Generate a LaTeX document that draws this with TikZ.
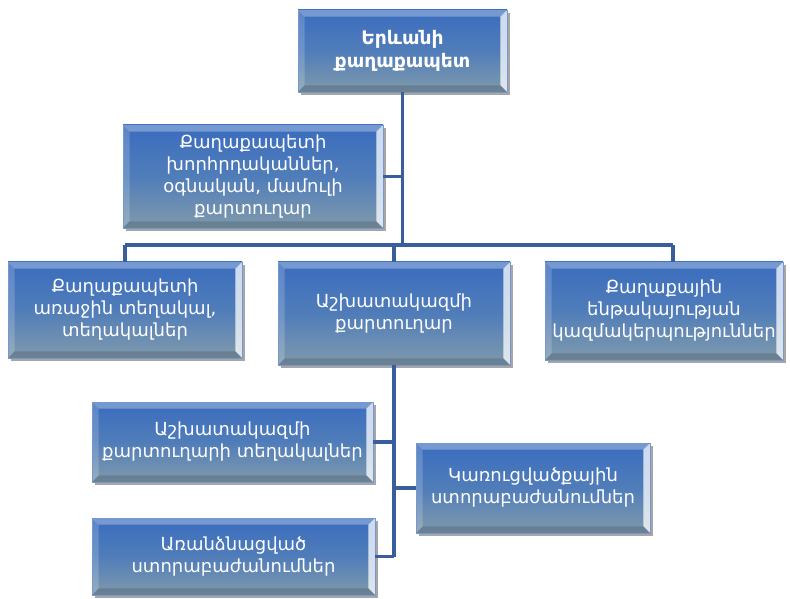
\documentclass[tikz,border=0pt]{standalone}
\usepackage{fontspec}
\setmainfont{DejaVu Sans}
\usetikzlibrary{shadows}
\definecolor{linec}{RGB}{58,94,155}
\definecolor{boxtop}{RGB}{58,108,190}
\definecolor{boxmid}{RGB}{80,125,185}
\definecolor{boxbot}{RGB}{128,154,172}
\tikzset{
  orgbox/.style={rectangle, inner sep=0pt, align=center, text=white,
    font=\fontsize{13.5}{16.5}\selectfont,
    top color=boxtop, bottom color=boxbot, middle color=boxmid,
    draw=boxtop!70!white, line width=0.4pt,
    drop shadow={shadow xshift=2pt, shadow yshift=-2.5pt, opacity=0.35, fill=black},
    path picture={
      \fill[white,opacity=0.30] (path picture bounding box.north west) -- (path picture bounding box.north east)
        -- ([shift={(-5pt,-5pt)}]path picture bounding box.north east) -- ([shift={(5pt,-5pt)}]path picture bounding box.north west) -- cycle;
      \fill[white,opacity=0.18] (path picture bounding box.north west) -- (path picture bounding box.south west)
        -- ([shift={(5pt,5pt)}]path picture bounding box.south west) -- ([shift={(5pt,-5pt)}]path picture bounding box.north west) -- cycle;
      \fill[white,opacity=0.75] (path picture bounding box.north east) -- (path picture bounding box.south east)
        -- ([shift={(-5pt,5pt)}]path picture bounding box.south east) -- ([shift={(-5pt,-5pt)}]path picture bounding box.north east) -- cycle;
      \fill[black,opacity=0.15] (path picture bounding box.south west) -- (path picture bounding box.south east)
        -- ([shift={(-5pt,5pt)}]path picture bounding box.south east) -- ([shift={(5pt,5pt)}]path picture bounding box.south west) -- cycle;
    }},
  conn/.style={draw=linec, line width=2.3pt}
}
\begin{document}
\begin{tikzpicture}[x=0.75pt,y=-0.75pt]
\useasboundingbox (0,0) rectangle (790,599);
\node[orgbox, minimum width=156.75pt, minimum height=61.5pt, font=\bfseries\fontsize{14}{17}\selectfont] (top) at (402.5,51) {Երևանի\\քաղաքապետ};
\node[orgbox, minimum width=195pt, minimum height=77.25pt] (b2) at (253,176.5) {Քաղաքապետի\\խորհրդականներ,\\օգնական, մամուլի\\քարտուղար};
\node[orgbox, minimum width=175.5pt, minimum height=72pt] (b3) at (125,310) {Քաղաքապետի\\առաջին տեղակալ,\\տեղակալներ};
\node[orgbox, minimum width=174pt, minimum height=77.25pt] (b4) at (394,313.5) {Աշխատակազմի\\քարտուղար};
\node[orgbox, minimum width=178.5pt, minimum height=73.5pt] (b5) at (664,311) {Քաղաքային\\ենթակայության\\կազմակերպություններ};
\node[orgbox, minimum width=210.75pt, minimum height=60pt] (b6) at (232.5,442) {Աշխատակազմի\\քարտուղարի տեղակալներ};
\node[orgbox, minimum width=175.5pt, minimum height=67.5pt] (b7) at (533,488) {Կառուցվածքային\\ստորաբաժանումներ};
\node[orgbox, minimum width=212.25pt, minimum height=57.75pt] (b8) at (233.5,556.5) {Առանձնացված\\ստորաբաժանումներ};
\coordinate (bus) at (0,245);
\coordinate (j5) at (673,245);
\draw[conn] (top.south) -- (top.south |- bus);
\draw[conn] (b2.east) -- (b2.east -| top.south);
\draw[conn] (b3.north |- bus) -- (j5);
\draw[conn] (b3.north |- bus) -- (b3.north);
\draw[conn] (b4.north |- bus) -- (b4.north);
\draw[conn] (j5) -- (j5 |- b5.north);
\draw[conn] (b4.south) -- (b4.south |- b8.east);
\draw[conn] (b6.east) -- (b6.east -| b4.south);
\draw[conn] (b7.west) -- (b7.west -| b4.south);
\draw[conn] (b8.east) -- (b8.east -| b4.south);
\end{tikzpicture}
\end{document}
